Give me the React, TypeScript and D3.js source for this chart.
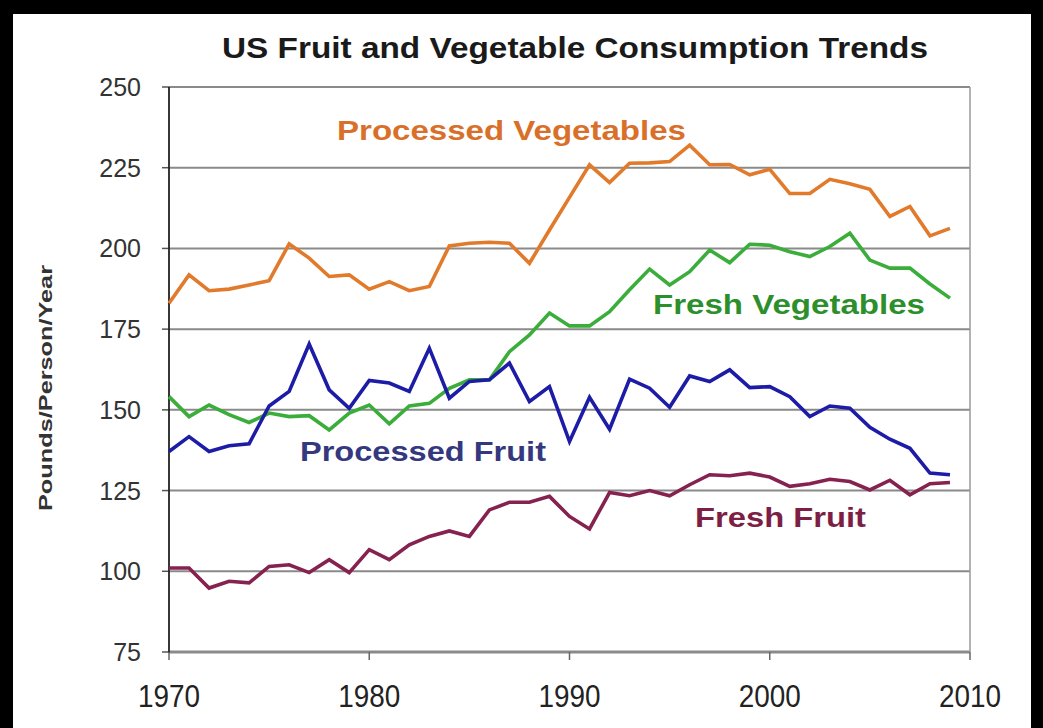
import React from "react";
import * as d3 from "d3";

const years: number[] = d3.range(1970, 2010);

const processedVeg: number[] = [
  183, 191.8, 186.9, 187.4, 188.7, 190, 201.4, 197, 191.3, 191.8,
  187.4, 189.7, 186.9, 188.2, 200.8, 201.6, 201.9, 201.6, 195.4, 205.7,
  215.8, 225.9, 220.4, 226.4, 226.5, 226.9, 232, 225.9, 226, 222.8,
  224.5, 217, 217, 221.4, 220, 218.3, 209.9, 213, 203.9, 206.2,
];
const freshVeg: number[] = [
  154.1, 147.9, 151.5, 148.5, 146.1, 149, 147.9, 148.2, 143.8, 149,
  151.5, 145.7, 151.2, 152, 156.7, 159.3, 159.3, 168, 173.2, 180,
  176, 176, 180.4, 187.2, 193.6, 188.7, 192.8, 199.5, 195.6, 201.3,
  201, 199, 197.5, 200.6, 204.7, 196.4, 193.9, 193.9, 189, 184.6,
];
const processedFruit: number[] = [
  137.1, 141.7, 137.1, 138.9, 139.5, 151.2, 155.7, 170.4, 156.2, 150.5,
  159.1, 158.3, 155.7, 169.1, 153.6, 158.8, 159.3, 164.5, 152.6, 157.2,
  140.2, 153.9, 144, 159.5, 156.7, 150.8, 160.5, 158.8, 162.4, 156.9,
  157.2, 154.1, 147.9, 151.2, 150.5, 144.6, 140.9, 138.1, 130.4, 129.9,
];
const freshFruit: number[] = [
  101, 101, 94.8, 96.9, 96.4, 101.5, 102, 99.6, 103.6, 99.6,
  106.7, 103.6, 108.2, 110.8, 112.5, 110.8, 119, 121.4, 121.4, 123.2,
  117, 113.1, 124.4, 123.4, 125, 123.4, 126.8, 129.9, 129.6, 130.4,
  129.2, 126.3, 127.1, 128.5, 127.8, 125.2, 128.2, 123.7, 127.1, 127.5,
];

const yTicks: number[] = [75, 100, 125, 150, 175, 200, 225, 250];
const xTicks: number[] = [1970, 1980, 1990, 2000, 2010];

const titleText = "US Fruit and Vegetable Consumption Trends";
const yAxisLabel = "Pounds/Person/Year";

const seriesList = [
  { name: "Processed Vegetables", values: processedVeg, line: "#e27a2c", label: "#d9702a", lx: 337, ly: 140, lw: 349 },
  { name: "Fresh Vegetables", values: freshVeg, line: "#3aad3a", label: "#2c8f2c", lx: 653, ly: 314, lw: 272 },
  { name: "Processed Fruit", values: processedFruit, line: "#1c1ca6", label: "#34387e", lx: 300, ly: 461, lw: 246 },
  { name: "Fresh Fruit", values: freshFruit, line: "#862250", label: "#7d1f45", lx: 695, ly: 527, lw: 171 },
];

export default function App() {
  const W = 1043, H = 728;
  const left = 169, right = 970, top = 87, bottom = 652;
  const x = d3.scaleLinear().domain([1970, 2010]).range([left, right]);
  const y = d3.scaleLinear().domain([75, 250]).range([bottom, top]);
  const line = d3.line<number>().x((_, i) => x(years[i])).y((v) => y(v));
  const font = "'Liberation Sans', Arial, sans-serif";
  const narrow = "'Liberation Sans Narrow', 'Liberation Sans', Arial, sans-serif";

  return (
    <div style={{ position: "fixed", left: 0, top: 0 }}>
      <svg width={W} height={H} style={{ display: "block" }}>
        <rect x={0} y={0} width={W} height={H} fill="#ffffff" />
        <rect x={0} y={0} width={W} height={14} fill="#000" />
        <rect x={0} y={0} width={13} height={H} fill="#000" />
        <rect x={1031} y={0} width={12} height={H} fill="#000" />

        <text x={575} y={58} textAnchor="middle" fontFamily={narrow}
          fontWeight="bold" fontSize={30} fill="#1a1a1a" textLength={706} lengthAdjust="spacingAndGlyphs">
          {titleText}
        </text>

        {yTicks.map((t) => (
          <g key={t}>
            <line x1={left} x2={right} y1={y(t)} y2={y(t)} stroke="#8a8a8a" strokeWidth={t === 75 ? 3 : 2} />
            <line x1={left - 7} x2={left} y1={y(t)} y2={y(t)} stroke="#555" strokeWidth={1.5} />
            <text x={141} y={y(t) + 9} textAnchor="end" fontFamily={font} fontSize={25} fill="#333">{t}</text>
          </g>
        ))}
        <line x1={right} x2={right} y1={top} y2={bottom} stroke="#9a9a9a" strokeWidth={1.5} />
        <line x1={left} x2={left} y1={top} y2={bottom + 1} stroke="#222" strokeWidth={1.8} />

        {xTicks.map((t) => (
          <g key={t}>
            <line x1={x(t)} x2={x(t)} y1={bottom} y2={bottom + 8} stroke="#666" strokeWidth={1.5} />
            <text x={x(t)} y={707} textAnchor="middle" fontFamily={narrow}
              fontSize={31} fill="#222" textLength={62} lengthAdjust="spacingAndGlyphs">{t}</text>
          </g>
        ))}

        <text transform={`translate(52,388) rotate(-90)`} textAnchor="middle" fontFamily={font}
          fontWeight="bold" fontSize={19} fill="#333" textLength={246} lengthAdjust="spacingAndGlyphs">
          {yAxisLabel}
        </text>

        {seriesList.map((s) => (
          <path key={s.name} d={line(s.values) || ""} fill="none" stroke={s.line} strokeWidth={3.6}
            strokeLinejoin="miter" strokeLinecap="butt" />
        ))}

        {seriesList.map((s) => (
          <text key={s.name + "l"} x={s.lx} y={s.ly} fontFamily={font} fontWeight="bold" fontSize={27}
            fill={s.label} textLength={s.lw} lengthAdjust="spacingAndGlyphs">{s.name}</text>
        ))}
      </svg>
    </div>
  );
}
